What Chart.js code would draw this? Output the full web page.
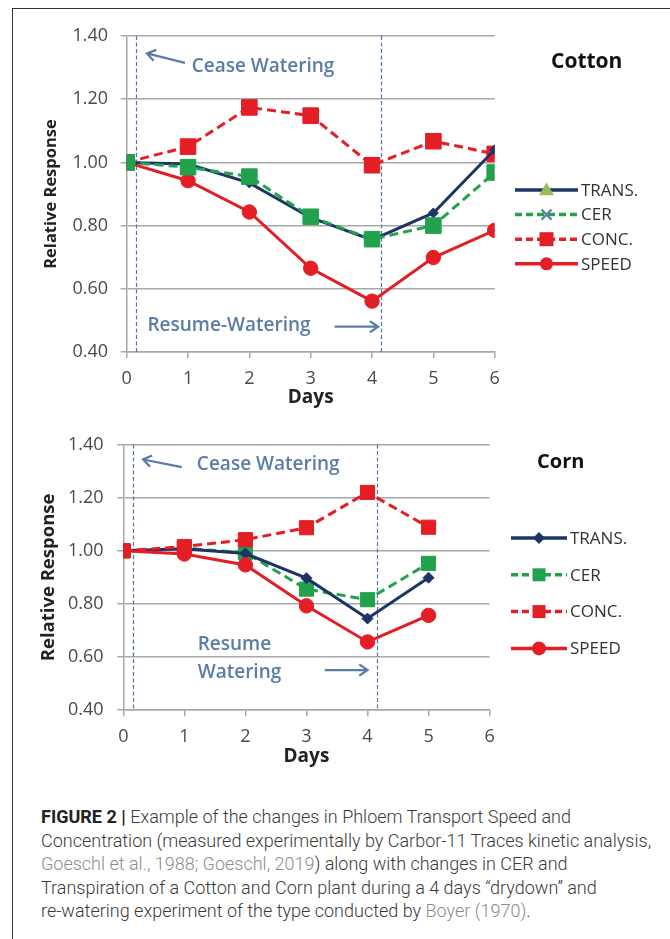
<!DOCTYPE html>
<html>
<head>
<meta charset="utf-8">
<script src="https://cdn.jsdelivr.net/npm/chart.js@4.4.1/dist/chart.umd.min.js"></script>
<style>
  body { margin: 0; background: #fff; width: 670px; height: 939px; position: relative; overflow: hidden; }
  .frame { position: absolute; left: 12px; top: 8px; right: -2px; bottom: -2px; border-left: 1px solid #333; border-top: 1px solid #333; }
  canvas { position: absolute; left: 0; }
  #cotton { top: 0; }
  #corn { top: 420px; }
  .caption { position: absolute; left: 41px; top: 805px; font: 300 18px Roboto, sans-serif; line-height: 23.5px; color: #3a3a3a; white-space: nowrap; }
  .caption b { font-weight: 700; color: #222; }
  .caption .ref { color: #8c8c8c; }
</style>
</head>
<body>
<div class="frame"></div>
<canvas id="cotton" width="670" height="410"></canvas>
<canvas id="corn" width="670" height="352"></canvas>
<div class="caption">
  <b>FIGURE 2 |</b> Example of the changes in Phloem Transport Speed and<br>
  Concentration (measured experimentally by Carbor-11 Traces kinetic analysis,<br>
  <span class="ref">Goeschl et al., 1988; Goeschl, 2019</span>) along with changes in CER and<br>
  Transpiration of a Cotton and Corn plant during a 4 days “drydown” and<br>
  re-watering experiment of the type conducted by <span class="ref">Boyer (1970)</span>.
</div>
<script>
// values
const seriesNames = ['TRANS.', 'CER', 'CONC.', 'SPEED']
const dayTicks = [0, 1, 2, 3, 4, 5, 6]
const responseTicks = [0.40, 0.60, 0.80, 1.00, 1.20, 1.40]

const cottonDays = [0, 1, 2, 3, 4, 5, 6]
const cottonTrans = [1.00, 0.995, 0.935, 0.825, 0.755, 0.84, 1.04]
const cottonCer = [1.00, 0.985, 0.955, 0.828, 0.757, 0.80, 0.968]
const cottonConc = [1.00, 1.05, 1.174, 1.148, 0.991, 1.067, 1.027]
const cottonSpeed = [1.00, 0.942, 0.843, 0.665, 0.561, 0.699, 0.785]

const cornDays = [0, 1, 2, 3, 4, 5]
const cornTrans = [1.00, 1.008, 0.99, 0.897, 0.745, 0.899]
const cornCer = [1.00, 1.01, 0.993, 0.856, 0.816, 0.953]
const cornConc = [1.00, 1.016, 1.042, 1.087, 1.22, 1.089]
const cornSpeed = [1.00, 0.988, 0.947, 0.793, 0.657, 0.757]

const NAVY = '#1c3566'
const GREEN = '#22a24d'
const RED = '#e31e24'
const NOTE = '#5a7ca6'
const GRID = '#a8a8a8'
const DASH = [9, 5]

function points(days, values) {
  return days.map((d, i) => ({ x: d, y: values[i] }))
}

function drawMarker(ctx, style, x, y, r, fill) {
  ctx.save()
  ctx.setLineDash([])
  ctx.fillStyle = fill
  ctx.strokeStyle = fill
  ctx.beginPath()
  if (style === 'circle') ctx.arc(x, y, r, 0, Math.PI * 2)
  else if (style === 'rect') ctx.rect(x - r, y - r, 2 * r, 2 * r)
  else if (style === 'rectRot') {
    ctx.moveTo(x, y - r); ctx.lineTo(x + r, y); ctx.lineTo(x, y + r); ctx.lineTo(x - r, y); ctx.closePath()
  } else if (style === 'triangle') {
    ctx.moveTo(x, y - r); ctx.lineTo(x + r, y + r * 0.7); ctx.lineTo(x - r, y + r * 0.7); ctx.closePath()
  }
  if (style === 'crossRot') {
    ctx.lineWidth = 2.2
    ctx.moveTo(x - r, y - r); ctx.lineTo(x + r, y + r)
    ctx.moveTo(x + r, y - r); ctx.lineTo(x - r, y + r)
    ctx.stroke()
  } else {
    ctx.fill()
  }
  ctx.restore()
}

function arrow(ctx, x0, y0, x1, y1) {
  const a = Math.atan2(y1 - y0, x1 - x0)
  const h = 10
  ctx.beginPath()
  ctx.moveTo(x0, y0)
  ctx.lineTo(x1, y1)
  ctx.moveTo(x1 - h * Math.cos(a - 0.6), y1 - h * Math.sin(a - 0.6))
  ctx.lineTo(x1, y1)
  ctx.lineTo(x1 - h * Math.cos(a + 0.6), y1 - h * Math.sin(a + 0.6))
  ctx.stroke()
}

const overlay = {
  id: 'overlay',
  beforeDatasetsDraw(chart, args, opts) {
    const { ctx, chartArea: area, scales: { x } } = chart
    ctx.save()
    ctx.strokeStyle = '#5577a8'
    ctx.lineWidth = 1.2
    ctx.setLineDash([4, 2.5])
    opts.waterLines.forEach(d => {
      const px = Math.round(x.getPixelForValue(d)) + 0.5
      ctx.beginPath()
      ctx.moveTo(px, area.top)
      ctx.lineTo(px, area.bottom)
      ctx.stroke()
    })
    ctx.restore()
  },
  afterDatasetsDraw(chart, args, opts) {
    const { ctx, scales: { x, y } } = chart
    ctx.save()
    // notes
    ctx.fillStyle = NOTE
    ctx.strokeStyle = NOTE
    ctx.lineWidth = 2.2
    ctx.font = '600 19px "Open Sans"'
    ctx.textBaseline = 'middle'
    ctx.textAlign = 'left'
    opts.notes.forEach(n => {
      n.lines.forEach((t, i) => ctx.fillText(t, x.getPixelForValue(n.at[0]), y.getPixelForValue(n.at[1]) + i * n.gap))
    })
    opts.arrows.forEach(a => {
      arrow(ctx, x.getPixelForValue(a[0]), y.getPixelForValue(a[1]), x.getPixelForValue(a[2]), y.getPixelForValue(a[3]))
    })
    // title
    ctx.fillStyle = '#111'
    ctx.font = '700 ' + opts.title.size + 'px "Open Sans"'
    ctx.fillText(opts.title.text, opts.title.x, opts.title.y)
    // legend
    const lg = opts.legend
    ctx.font = '17px "Open Sans"'
    lg.items.forEach((it, i) => {
      const ly = lg.y + i * lg.step
      ctx.save()
      ctx.strokeStyle = it.color
      ctx.lineWidth = 3.5
      ctx.setLineDash(it.dash)
      ctx.beginPath()
      ctx.moveTo(lg.x0, ly)
      ctx.lineTo(lg.x1, ly)
      ctx.stroke()
      ctx.restore()
      drawMarker(ctx, it.marker, (lg.x0 + lg.x1) / 2, ly, it.r, it.mColor || it.color)
      ctx.fillStyle = '#333'
      ctx.fillText(seriesNames[i], lg.x1 + 3, ly + 1)
    })
    ctx.restore()
  }
}

function lineChart(id, cfg) {
  const el = document.getElementById(id)
  const H = el.height
  return new Chart(el, {
    type: 'line',
    data: { datasets: cfg.datasets },
    plugins: [overlay],
    options: {
      responsive: false,
      animation: false,
      events: [],
      layout: { padding: { top: cfg.area.top, right: 670 - cfg.area.right, bottom: 0, left: 0 } },
      plugins: {
        legend: { display: false },
        tooltip: { enabled: false },
        overlay: cfg.overlay,
      },
      scales: {
        x: {
          type: 'linear',
          min: 0,
          max: 6,
          afterBuildTicks: s => { s.ticks = dayTicks.map(v => ({ value: v })) },
          afterFit: s => { s.height = H - cfg.area.bottom },
          grid: { drawOnChartArea: false, drawTicks: true, tickLength: 6, color: GRID, lineWidth: 1.5 },
          border: { color: GRID, width: 1.5 },
          ticks: { color: '#4a4a4a', padding: cfg.xPad, font: { family: 'Open Sans', size: 18 } },
          title: { display: true, text: 'Days', color: '#222', padding: { top: 0, bottom: cfg.daysPad }, font: { family: 'Open Sans', size: 19, weight: 700 } },
        },
        y: {
          min: 0.4,
          max: 1.4,
          afterBuildTicks: s => { s.ticks = responseTicks.map(v => ({ value: v })) },
          afterFit: s => { s.width = cfg.area.left },
          grid: { color: GRID, lineWidth: 1.5, tickLength: 6 },
          border: { color: GRID, width: 1.5 },
          ticks: { color: '#4a4a4a', padding: cfg.yPad, font: { family: 'Open Sans', size: 18 }, callback: v => v.toFixed(2) },
          title: { display: true, text: 'Relative Response', color: '#222', padding: { top: cfg.yTitlePad, bottom: 0 }, font: { family: 'Open Sans', size: cfg.yTitleSize, weight: 700 } },
        },
      },
    },
  })
}

function series(label, days, values, color, dash, style, radius, order) {
  return {
    label,
    data: points(days, values),
    borderColor: color,
    backgroundColor: color,
    borderWidth: 3,
    borderDash: dash,
    pointStyle: style,
    pointRadius: radius,
    pointBorderWidth: 1,
    tension: 0,
    order,
  }
}

lineChart('cotton', {
  area: { left: 126.7, right: 494.7, top: 36, bottom: 352 },
  xPad: 10, yPad: 12.7, daysPad: 1.3, yTitlePad: 41.7, yTitleSize: 16.5,
  datasets: [
    series('TRANS.', cottonDays, cottonTrans, NAVY, [], 'rectRot', 5, 1),
    series('CER', cottonDays, cottonCer, GREEN, DASH, 'rect', 11, 0),
    series('CONC.', cottonDays, cottonConc, RED, DASH, 'rect', 11, 3),
    series('SPEED', cottonDays, cottonSpeed, RED, [], 'circle', 7.2, 2),
  ],
  overlay: {
    waterLines: [0.15, 4.14],
    notes: [
      { lines: ['Cease Watering'], at: [1.06, 1.303], gap: 0 },
      { lines: ['Resume-Watering'], at: [0.338, 0.485], gap: 0 },
    ],
    arrows: [[0.95, 1.315, 0.33, 1.345], [3.39, 0.48, 4.1, 0.48]],
    title: { text: 'Cotton', x: 551, y: 62, size: 21 },
    legend: {
      x0: 515, x1: 578, y: 190, step: 24.6,
      items: [
        { color: NAVY, dash: [], marker: 'triangle', mColor: '#9bbb59', r: 7.5 },
        { color: GREEN, dash: [7, 4], marker: 'crossRot', mColor: '#5b7ea3', r: 5 },
        { color: RED, dash: [7, 4], marker: 'rect', r: 7 },
        { color: RED, dash: [], marker: 'circle', r: 6.5 },
      ],
    },
  },
})

lineChart('corn', {
  area: { left: 123.3, right: 489.6, top: 14.1, bottom: 290.2 },
  xPad: 9.7, yPad: 13.8, daysPad: 3.8, yTitlePad: 37.4, yTitleSize: 18.5,
  datasets: [
    series('TRANS.', cornDays, cornTrans, NAVY, [], 'rectRot', 5.5, 2),
    series('CER', cornDays, cornCer, GREEN, DASH, 'rect', 10, 3),
    series('CONC.', cornDays, cornConc, RED, DASH, 'rect', 10, 0),
    series('SPEED', cornDays, cornSpeed, RED, [], 'circle', 7.2, 1),
  ],
  overlay: {
    waterLines: [0.16, 4.15],
    notes: [
      { lines: ['Cease Watering'], at: [1.205, 1.324], gap: 0 },
      { lines: ['Resume', 'Watering'], at: [1.219, 0.648], gap: 28 },
    ],
    arrows: [[0.958, 1.315, 0.323, 1.344], [3.3, 0.551, 4.0, 0.551]],
    title: { text: 'Corn', x: 537, y: 42, size: 20 },
    legend: {
      x0: 511, x1: 567, y: 118, step: 36.8,
      items: [
        { color: NAVY, dash: [], marker: 'rectRot', r: 6 },
        { color: GREEN, dash: [7, 4], marker: 'rect', r: 6.5 },
        { color: RED, dash: [7, 4], marker: 'rect', r: 6.5 },
        { color: RED, dash: [], marker: 'circle', r: 7 },
      ],
    },
  },
})
</script>
</body>
</html>
